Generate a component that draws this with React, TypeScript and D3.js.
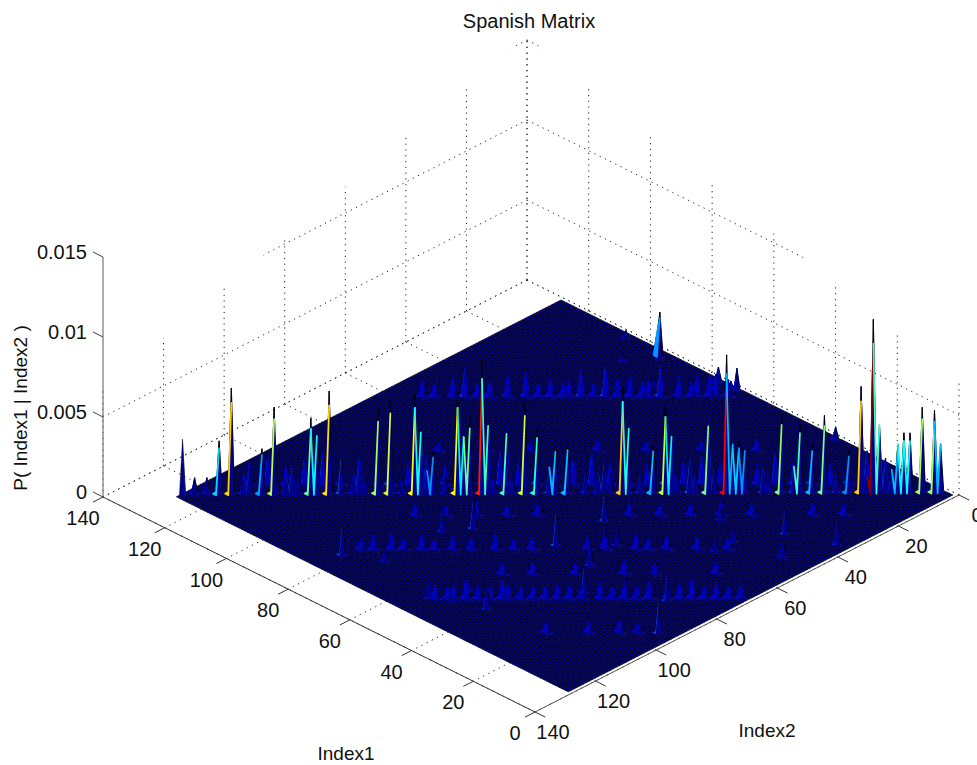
import React, { useMemo } from "react";
import * as d3 from "d3";

const WIDTH = 977;
const HEIGHT = 765;
const GRID_SIZE = 128;
const TITLE = "Spanish Matrix";
const X_LABEL = "Index1";
const Y_LABEL = "Index2";
const Z_LABEL = "P( Index1 | Index2 )";
const INDEX_TICKS = [0, 20, 40, 60, 80, 100, 120, 140];
const Z_TICKS = [0, 0.005, 0.01, 0.015];
const Z_TICK_TEXT = ["0", "0.005", "0.01", "0.015"];
const COLOR_MAX = 0.0098;
const SHOULDER = 0.0004;

// Main diagonal ridge: Index1 = Index2 + 2
const mainRowI2 = [126,124,122,120,118,116,115,113,111,109,108,107,105,104,102,100,98,97,96,94,92,90,88,87,86,85,83,81,80,79,77,76,75,73,72,70,68,66,65,63,60,58,57,56,54,53,51,49,47,46,45,43,42,40,39,37,36,35,34,31,30,28,26,25,23,21,19,17,15,14,13,12,11,10,9,8,7,5,3,2];
const mainRowValues = [0.0034,0.001,0.001,0.0033,0.0066,0.0012,0.0016,0.0028,0.0054,0.001,0.0018,0.0012,0.0047,0.0036,0.0064,0.0022,0.0012,0.0016,0.001,0.0052,0.0058,0.0012,0.0062,0.0038,0.0014,0.0026,0.0012,0.0062,0.0035,0.0047,0.0083,0.0042,0.0012,0.0043,0.0014,0.0056,0.004,0.0016,0.003,0.0031,0.0014,0.0012,0.0018,0.0012,0.0066,0.004,0.0014,0.003,0.0055,0.0035,0.0012,0.002,0.0014,0.0048,0.0016,0.0086,0.003,0.0032,0.0026,0.0016,0.0012,0.0049,0.0016,0.0043,0.003,0.0048,0.0014,0.0026,0.0066,0.001,0.0108,0.0042,0.0018,0.0014,0.003,0.0037,0.0037,0.0053,0.0051,0.003];

// Blue lobes just behind the ridge: Index1 = Index2 + 8
const lobeRowI2 = [112,109,106,103,100,97,94,91,89,86,83,80,77,74,71,68,65,62,59,56,53,50,47,44,41,38,35,32,29,26,23,20,17,14,11,8];
const lobeRowValues = [0.0014,0.0018,0.0012,0.0016,0.002,0.0013,0.0017,0.0012,0.0022,0.0014,0.0018,0.0012,0.0016,0.0013,0.002,0.0014,0.0018,0.0012,0.0015,0.0019,0.0013,0.0016,0.0012,0.0021,0.0014,0.0017,0.0013,0.0016,0.0012,0.0019,0.0014,0.0018,0.0012,0.0016,0.002,0.0015];

// Row of small peaks behind the ridge: Index1 = Index2 + 65
const backRowI2 = [55,53,50,48,46,44,41,38,36,34,32,31,29,27,25,23,21,19,18,16,13,11,10,8,7,5];
const backRowValues = [0.001,0.0008,0.0012,0.0017,0.0008,0.0009,0.0013,0.0015,0.0008,0.0011,0.0008,0.001,0.0016,0.0008,0.0018,0.0011,0.0012,0.0008,0.001,0.0018,0.0012,0.0008,0.0013,0.0012,0.0013,0.001];

// Rows in front of the ridge
const rowCI2 = [115,113,110,108,105,103,100,97,93,90,87,78,75,70,68,65,60,55];
const rowCValues = [0.0007,0.0009,0.001,0.0007,0.0009,0.0006,0.0008,0.0007,0.0009,0.0006,0.0007,0.0007,0.0008,0.0009,0.0006,0.0008,0.0007,0.0006];
const rowDI2 = [119,117,116,114,112,110,108,107,105,103,101,99,97,95,92,90,88,86,84,81,79,77,75,73,71,69];
const rowDValues = [0.0009,0.0007,0.0008,0.0011,0.0008,0.0007,0.0011,0.0009,0.0007,0.0008,0.0007,0.0009,0.0008,0.0007,0.001,0.0007,0.001,0.0008,0.0011,0.0007,0.0009,0.0012,0.0007,0.0009,0.0007,0.0008];
const rowEI2 = [95,90,85,80,75,60,55,50,45,40,30,25];
const rowEValues = [0.0007,0.0006,0.0008,0.0006,0.0007,0.0007,0.0006,0.0007,0.0008,0.0006,0.0007,0.0006];
const rowFI2 = [100,95,88,80,75,65];
const rowFValues = [0.0006,0.0007,0.0006,0.0008,0.0006,0.0007];
const rowGI2 = [112,105,100,97];
const rowGValues = [0.0006,0.0006,0.0007,0.0005];
const rowHI2 = [70,62,55,44,36,27,18];
const rowHValues = [0.0005,0.0006,0.0005,0.0006,0.0005,0.0005,0.0006];

// Individually read peaks
const peakI1 = [82,73,69,54,50,41,50,50,30,38,14,5,16,9,42,40,31,22,22,4,73,94,95,93,70,71,76,38,85,98,105];
const peakI2 = [120,96,90,120,111,114,82,66,93,83,82,94,41,49,74,72,47,52,58,36,115,3,3,4,2,3,2,2,14,11,3];
const peakValues = [0.0018,0.0014,0.0018,0.0012,0.001,0.0014,0.002,0.0018,0.0018,0.0014,0.0016,0.002,0.0016,0.0012,0.001,0.001,0.0008,0.001,0.0008,0.0014,0.0008,0.0027,0.0012,0.001,0.0014,0.0006,0.0009,0.0008,0.0005,0.0005,0.0005];

// Screen placement of the data box
const i1X = d3.scaleLinear().domain([0, 140]).range([0, -432]);
const i1Y = d3.scaleLinear().domain([0, 140]).range([0, -215]);
const i2X = d3.scaleLinear().domain([0, 140]).range([959, 535]);
const i2Y = d3.scaleLinear().domain([0, 140]).range([495, 712]);
const zY = d3.scaleLinear().domain([0, 0.015]).range([0, -240]);
const project = (i1: number, i2: number, z = 0): [number, number] => [
  i2X(i2) + i1X(i1),
  i2Y(i2) + i1Y(i1) + zY(z),
];
const jet = d3
  .scaleLinear<string>()
  .domain([0, 0.125, 0.375, 0.625, 0.875, 1].map((d) => d * COLOR_MAX))
  .range(["#00008f", "#0000ff", "#00ffff", "#ffff00", "#ff0000", "#800000"])
  .clamp(true);

function buildMatrix() {
  const m = new Float64Array((GRID_SIZE + 2) * (GRID_SIZE + 2));
  const put = (a: number, b: number, v: number) => {
    if (a >= 1 && a <= GRID_SIZE && b >= 1 && b <= GRID_SIZE) m[a * (GRID_SIZE + 1) + b] = v;
  };
  const row = (offset: number, i2s: number[], vs: number[], shoulder = false) =>
    i2s.forEach((b, k) => {
      put(b + offset, b, vs[k]);
      if (shoulder) put(b + offset - 1, b, SHOULDER);
    });
  row(8, lobeRowI2, lobeRowValues, true);
  row(2, mainRowI2, mainRowValues);
  row(65, backRowI2, backRowValues, true);
  row(-34, rowCI2, rowCValues, true);
  row(-66, rowDI2, rowDValues, true);
  row(-12, rowEI2, rowEValues, true);
  row(-50, rowFI2, rowFValues, true);
  row(-88, rowGI2, rowGValues, true);
  row(30, rowHI2, rowHValues, true);
  peakI1.forEach((a, k) => put(a, peakI2[k], peakValues[k]));
  return (a: number, b: number) => m[a * (GRID_SIZE + 1) + b];
}

const pts = (list: [number, number][]) => list.map((p) => p[0].toFixed(2) + "," + p[1].toFixed(2)).join(" ");
const line = (a: [number, number], b: [number, number]) => ({ x1: a[0], y1: a[1], x2: b[0], y2: b[1] });

type Face = { d: string; fill: string; stroke: string; width: number };

export default function App() {
  const { faces, bright } = useMemo(() => {
    const v = buildMatrix();
    const faces: Face[] = [];
    const bright: Face[] = [];
    for (let a = GRID_SIZE - 1; a >= 1; a--) {
      for (let b = 1; b < GRID_SIZE; b++) {
        const own = v(a, b);
        const zs = [own, v(a + 1, b), v(a + 1, b + 1), v(a, b + 1)];
        const tallest = Math.max(...zs);
        const corners = (cap: number) =>
          pts([
            project(a, b, Math.min(zs[0], cap)),
            project(a + 1, b, Math.min(zs[1], cap)),
            project(a + 1, b + 1, Math.min(zs[2], cap)),
            project(a, b + 1, Math.min(zs[3], cap)),
          ]);
        const fill = jet(own);
        if (own >= 0.0024) {
          // the tip of a tall peak reads dark, where its mesh lines converge
          faces.push({ d: corners(tallest), fill: "#000040", stroke: "#000", width: 0.5 });
          bright.push({ d: corners(tallest * 0.86), fill, stroke: fill, width: 1.7 });
        } else if (own > 0) {
          faces.push({ d: corners(tallest), fill, stroke: fill, width: 0.8 });
        } else {
          faces.push({ d: corners(tallest), fill, stroke: "#000", width: tallest > 0 ? 0.35 : 0.65 });
        }
      }
    }
    return { faces, bright };
  }, []);

  const dots = { stroke: "#222", strokeWidth: 1, strokeDasharray: "1.2 4.6", fill: "none" };
  const font = { fontFamily: "'Liberation Sans', Arial, sans-serif", fontSize: 20, fill: "#111" };
  const labelFont = { ...font, fontSize: 19 };
  const clipPoly = pts([[0, 474], [527, 36], [977, 396], [977, 765], [0, 765]]);

  return (
    <svg width={WIDTH} height={HEIGHT} viewBox={`0 0 ${WIDTH} ${HEIGHT}`} style={{ position: "absolute", left: 0, top: 0, background: "#fff" }}>
      <defs>
        <clipPath id="wallClip"><polygon points={clipPoly} /></clipPath>
      </defs>

      {/* floor grid */}
      {INDEX_TICKS.map((t) => (
        <g key={"floor" + t} {...dots}>
          <line {...line(project(t, 0), project(t, 140))} />
          <line {...line(project(0, t), project(140, t))} />
        </g>
      ))}

      {/* back walls */}
      <g clipPath="url(#wallClip)" {...dots}>
        {INDEX_TICKS.map((t) => (
          <g key={"wall" + t}>
            <line {...line(project(140, t), project(140, t, 0.015))} />
            <line {...line(project(t, 0), project(t, 0, 0.015))} />
          </g>
        ))}
        {Z_TICKS.map((z) => (
          <g key={"wallz" + z}>
            <line {...line(project(140, 140, z), project(140, 0, z))} />
            <line {...line(project(140, 0, z), project(0, 0, z))} />
          </g>
        ))}
      </g>

      {/* surface */}
      <g strokeLinejoin="round">
        {faces.map((f, k) => (
          <polygon key={k} points={f.d} fill={f.fill} stroke={f.stroke} strokeWidth={f.width} />
        ))}
        {bright.map((f, k) => (
          <polygon key={"b" + k} points={f.d} fill={f.fill} stroke={f.stroke} strokeWidth={f.width} />
        ))}
      </g>

      {/* axes */}
      <line {...line(project(140, 140), project(140, 140, 0.015))} stroke="#808080" strokeWidth={1.3} />
      <line {...line(project(140, 140), project(0, 140))} stroke="#333" strokeWidth={1} />
      <line {...line(project(0, 140), project(0, 0))} stroke="#555" strokeWidth={1} />

      {Z_TICKS.map((z, k) => {
        const p = project(140, 140, z);
        const q = project(143.3, 140, z);
        return (
          <g key={"zt" + z}>
            <line {...line(p, q)} stroke="#444" />
            <text x={p[0] - 16} y={p[1] - 5} dy="0.36em" textAnchor="end" {...font}>{Z_TICK_TEXT[k]}</text>
          </g>
        );
      })}

      {INDEX_TICKS.map((t) => {
        const a = project(t, 140);
        const a2 = project(t, 143.3);
        const b = project(0, t);
        const b2 = project(-3.3, t);
        return (
          <g key={"xt" + t}>
            <line {...line(a, a2)} stroke="#333" />
            <line {...line(b, b2)} stroke="#333" />
            <text x={a[0] - 20} y={a[1] + 21} dy="0.36em" textAnchor="middle" {...font}>{t}</text>
            <text x={b[0] + 18} y={b[1] + 20} dy="0.36em" textAnchor="middle" {...font}>{t}</text>
          </g>
        );
      })}

      <text x={529} y={21} dy="0.36em" textAnchor="middle" {...font}>{TITLE}</text>
      <text x={346} y={753} dy="0.36em" textAnchor="middle" {...labelFont}>{X_LABEL}</text>
      <text x={767} y={730} dy="0.36em" textAnchor="middle" {...labelFont}>{Y_LABEL}</text>
      <text transform="translate(20,408) rotate(-90)" dy="0.36em" textAnchor="middle" {...labelFont}>{Z_LABEL}</text>
    </svg>
  );
}
